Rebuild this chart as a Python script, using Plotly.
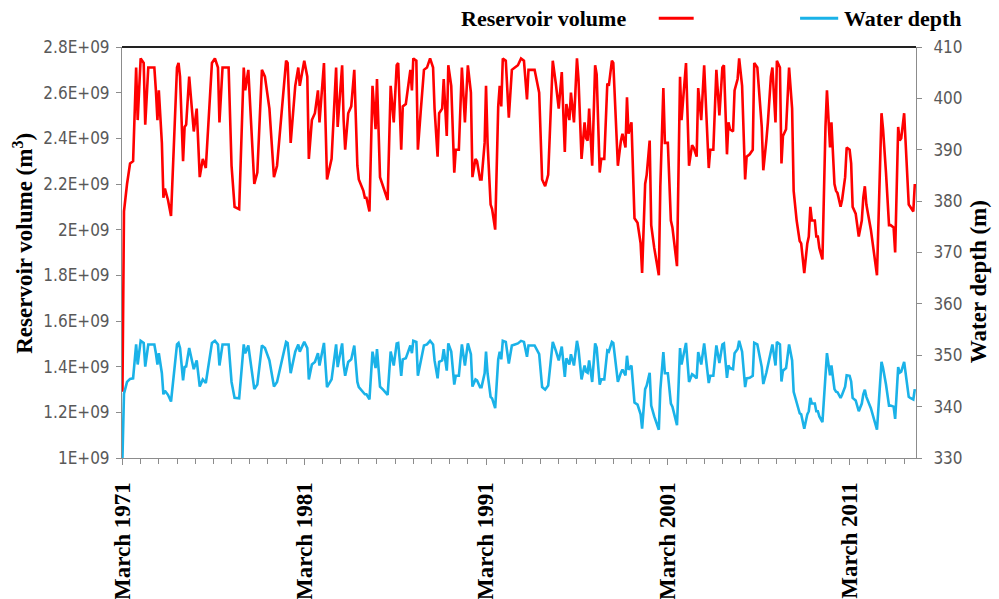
import plotly.graph_objects as go

# Monthly reservoir record (volume in m3, water depth in m)
dates = [
    "1971-03", "1971-04", "1971-06", "1971-08", "1971-10", "1971-12", "1972-01", "1972-03",
    "1972-05", "1972-06", "1972-08", "1972-12", "1973-01", "1973-02", "1973-03", "1973-05",
    "1973-06", "1973-07", "1973-09", "1973-11", "1974-03", "1974-04", "1974-05", "1974-07",
    "1974-08", "1974-09", "1974-11", "1975-02", "1975-04", "1975-06", "1975-08", "1975-10",
    "1976-02", "1976-04", "1976-06", "1976-07", "1976-09", "1977-01", "1977-03", "1977-05",
    "1977-08", "1977-11", "1977-12", "1978-02", "1978-06", "1978-08", "1978-11", "1979-01",
    "1979-04", "1979-07", "1979-09",
    "1980-03", "1980-04", "1980-06", "1980-09", "1980-11", "1980-12", "1981-03", "1981-05",
    "1981-06", "1981-08", "1981-10", "1981-12", "1982-01", "1982-04", "1982-05", "1982-06",
    "1982-09", "1982-12", "1983-01", "1983-04", "1983-05", "1983-06", "1983-08", "1983-10",
    "1983-12", "1984-01", "1984-02", "1984-03", "1984-06", "1984-07", "1984-08", "1984-10",
    "1984-12", "1985-02", "1985-03", "1985-05", "1985-07", "1985-10", "1985-12", "1986-02",
    "1986-04", "1986-05", "1986-07", "1986-08", "1986-10", "1987-01", "1987-02", "1987-03",
    "1987-05", "1987-06", "1987-08", "1987-10", "1987-12", "1988-02", "1988-04", "1988-05",
    "1988-07",
    "1988-08", "1988-10", "1988-11", "1989-01", "1989-02", "1989-04", "1989-06", "1989-07",
    "1989-09", "1989-11", "1990-01", "1990-03", "1990-05", "1990-06", "1990-08", "1990-09",
    "1990-11", "1990-12", "1991-02", "1991-03", "1991-04", "1991-06", "1991-07", "1991-09",
    "1991-11", "1991-12", "1992-01", "1992-02", "1992-04", "1992-06", "1992-08", "1992-10",
    "1992-12", "1993-02", "1993-04", "1993-06", "1993-07", "1993-11", "1994-01", "1994-02",
    "1994-04", "1994-06", "1994-08", "1994-11", "1995-01", "1995-03", "1995-05", "1995-07",
    "1995-08", "1995-10", "1995-11", "1996-01", "1996-03", "1996-04", "1996-06", "1996-08",
    "1996-09", "1996-10", "1996-11", "1997-01", "1997-03", "1997-04",
    "1997-06", "1997-07", "1997-09", "1997-11", "1997-12", "1998-02", "1998-03", "1998-06",
    "1998-08", "1998-09", "1998-11", "1998-12", "1999-01", "1999-03", "1999-05", "1999-07",
    "1999-09", "1999-10", "1999-12", "2000-01", "2000-03", "2000-04", "2000-06", "2000-09",
    "2000-10", "2000-12", "2001-01", "2001-03", "2001-05", "2001-06", "2001-09", "2001-11",
    "2001-12", "2002-02", "2002-03", "2002-05", "2002-07", "2002-08", "2002-10", "2002-11",
    "2003-01", "2003-03", "2003-06", "2003-07", "2003-09", "2003-11", "2004-01", "2004-03",
    "2004-04", "2004-06", "2004-07", "2004-08", "2004-10", "2004-11", "2005-01", "2005-02",
    "2005-04", "2005-06", "2005-07", "2005-09", "2005-11", "2005-12", "2006-02",
    "2006-05", "2006-06", "2006-08", "2006-09", "2006-11", "2006-12", "2007-02", "2007-03",
    "2007-05", "2007-06", "2007-07", "2007-09", "2007-11", "2008-01", "2008-02", "2008-04",
    "2008-06", "2008-07", "2008-09", "2008-11", "2008-12", "2009-01", "2009-02", "2009-04",
    "2009-05", "2009-06", "2009-07", "2009-09", "2009-11", "2009-12", "2010-02", "2010-03",
    "2010-05", "2010-06", "2010-07", "2010-09", "2010-10", "2010-12", "2011-01", "2011-03",
    "2011-04", "2011-05", "2011-07", "2011-09", "2011-11", "2011-12", "2012-01", "2012-02",
    "2012-05", "2012-06", "2012-09", "2012-12", "2013-01", "2013-03", "2013-05", "2013-06",
    "2013-08", "2013-09", "2013-11", "2013-12", "2014-01", "2014-03", "2014-04", "2014-06",
    "2014-07", "2014-09", "2014-10",
]

reservoir_volume = [
    1.29e9, 2.08e9, 2.20e9, 2.29e9, 2.30e9, 2.71e9, 2.48e9, 2.75e9,
    2.73e9, 2.46e9, 2.71e9, 2.71e9, 2.61e9, 2.48e9, 2.61e9, 2.38e9,
    2.14e9, 2.18e9, 2.13e9, 2.06e9, 2.71e9, 2.73e9, 2.67e9, 2.30e9,
    2.45e9, 2.46e9, 2.67e9, 2.43e9, 2.53e9, 2.23e9, 2.31e9, 2.27e9,
    2.73e9, 2.75e9, 2.71e9, 2.47e9, 2.71e9, 2.71e9, 2.28e9, 2.10e9,
    2.09e9, 2.71e9, 2.61e9, 2.70e9, 2.20e9, 2.25e9, 2.70e9, 2.67e9,
    2.53e9, 2.23e9, 2.28e9,
    2.74e9, 2.73e9, 2.38e9, 2.63e9, 2.71e9, 2.63e9, 2.74e9, 2.67e9,
    2.31e9, 2.48e9, 2.51e9, 2.61e9, 2.47e9, 2.73e9, 2.45e9, 2.22e9,
    2.31e9, 2.71e9, 2.45e9, 2.72e9, 2.48e9, 2.35e9, 2.51e9, 2.54e9,
    2.70e9, 2.45e9, 2.28e9, 2.22e9, 2.17e9, 2.14e9, 2.14e9, 2.08e9,
    2.63e9, 2.44e9, 2.66e9, 2.23e9, 2.19e9, 2.13e9, 2.63e9, 2.47e9,
    2.72e9, 2.73e9, 2.35e9, 2.54e9, 2.55e9, 2.70e9, 2.61e9, 2.75e9,
    2.74e9, 2.35e9, 2.53e9, 2.70e9, 2.71e9, 2.75e9, 2.71e9, 2.53e9,
    2.32e9,
    2.51e9, 2.53e9, 2.66e9, 2.41e9, 2.72e9, 2.63e9, 2.25e9, 2.35e9,
    2.35e9, 2.71e9, 2.47e9, 2.72e9, 2.60e9, 2.23e9, 2.31e9, 2.30e9,
    2.22e9, 2.22e9, 2.38e9, 2.63e9, 2.38e9, 2.11e9, 2.09e9, 2.00e9,
    2.54e9, 2.63e9, 2.54e9, 2.75e9, 2.74e9, 2.49e9, 2.70e9, 2.71e9,
    2.72e9, 2.75e9, 2.74e9, 2.57e9, 2.70e9, 2.70e9, 2.63e9, 2.60e9,
    2.22e9, 2.19e9, 2.24e9, 2.74e9, 2.64e9, 2.53e9, 2.69e9, 2.34e9,
    2.55e9, 2.48e9, 2.60e9, 2.47e9, 2.75e9, 2.66e9, 2.31e9, 2.47e9,
    2.40e9, 2.39e9, 2.53e9, 2.28e9, 2.72e9, 2.68e9,
    2.25e9, 2.31e9, 2.31e9, 2.64e9, 2.63e9, 2.74e9, 2.73e9, 2.28e9,
    2.39e9, 2.42e9, 2.36e9, 2.58e9, 2.42e9, 2.47e9, 2.05e9, 2.03e9,
    1.94e9, 1.81e9, 2.20e9, 2.24e9, 2.39e9, 2.02e9, 1.92e9, 1.80e9,
    2.19e9, 2.62e9, 2.38e9, 2.38e9, 2.04e9, 2.01e9, 1.84e9, 2.67e9,
    2.48e9, 2.67e9, 2.73e9, 2.28e9, 2.37e9, 2.36e9, 2.32e9, 2.62e9,
    2.48e9, 2.72e9, 2.27e9, 2.35e9, 2.35e9, 2.70e9, 2.50e9, 2.71e9,
    2.72e9, 2.33e9, 2.47e9, 2.44e9, 2.43e9, 2.61e9, 2.66e9, 2.75e9,
    2.63e9, 2.22e9, 2.32e9, 2.33e9, 2.35e9, 2.73e9, 2.71e9,
    2.45e9, 2.26e9, 2.39e9, 2.47e9, 2.67e9, 2.71e9, 2.47e9, 2.74e9,
    2.71e9, 2.29e9, 2.41e9, 2.44e9, 2.71e9, 2.53e9, 2.17e9, 2.04e9,
    1.95e9, 1.94e9, 1.81e9, 1.94e9, 1.97e9, 2.10e9, 2.04e9, 2.04e9,
    1.97e9, 1.97e9, 1.92e9, 1.87e9, 2.45e9, 2.61e9, 2.36e9, 2.47e9,
    2.20e9, 2.17e9, 2.16e9, 2.10e9, 2.13e9, 2.23e9, 2.36e9, 2.35e9,
    2.29e9, 2.10e9, 2.07e9, 1.97e9, 2.04e9, 2.14e9, 2.19e9, 2.11e9,
    2.00e9, 1.95e9, 1.80e9, 2.51e9, 2.44e9, 2.25e9, 2.02e9, 2.02e9,
    2.01e9, 1.90e9, 2.45e9, 2.39e9, 2.40e9, 2.51e9, 2.38e9, 2.11e9,
    2.10e9, 2.08e9, 2.20e9,
]

water_depth = [
    330.0, 342.5, 344.8, 345.4, 345.5, 352.1, 348.2, 352.8,
    352.4, 347.8, 352.1, 352.1, 350.4, 348.2, 350.4, 346.5,
    342.4, 343.1, 342.3, 341.0, 352.1, 352.4, 351.4, 345.1,
    347.7, 347.8, 351.4, 347.3, 349.0, 343.9, 345.3, 344.6,
    352.4, 352.8, 352.1, 348.0, 352.1, 352.1, 344.8, 341.7,
    341.6, 352.1, 350.4, 351.9, 343.4, 344.3, 351.9, 351.4,
    349.0, 343.9, 344.8,
    352.6, 352.4, 346.5, 350.7, 352.1, 350.7, 352.6, 351.4,
    345.3, 348.2, 348.7, 350.4, 348.0, 352.4, 347.7, 343.8,
    345.3, 352.1, 347.7, 352.3, 348.2, 346.0, 348.7, 349.2,
    351.9, 347.7, 344.8, 343.8, 342.9, 342.4, 342.4, 341.4,
    350.7, 347.5, 351.2, 343.9, 343.3, 342.3, 350.7, 348.0,
    352.3, 352.4, 346.0, 349.2, 349.4, 351.9, 350.4, 352.8,
    352.6, 346.0, 349.0, 351.9, 352.1, 352.8, 352.1, 349.0,
    345.5,
    348.7, 349.0, 351.2, 347.0, 352.3, 350.7, 344.3, 346.0,
    346.0, 352.1, 348.0, 352.3, 350.2, 343.9, 345.3, 345.1,
    343.8, 343.8, 346.5, 350.7, 346.5, 341.9, 341.6, 339.7,
    349.2, 350.7, 349.2, 352.8, 352.6, 348.4, 351.9, 352.1,
    352.3, 352.8, 352.6, 349.7, 351.9, 351.9, 350.7, 350.2,
    343.8, 343.3, 344.1, 352.6, 350.9, 349.0, 351.7, 345.8,
    349.4, 348.2, 350.2, 348.0, 352.8, 351.2, 345.3, 348.0,
    346.8, 346.6, 349.0, 344.8, 352.3, 351.5,
    344.3, 345.3, 345.3, 350.9, 350.7, 352.6, 352.4, 344.8,
    346.6, 347.2, 346.1, 349.9, 347.2, 348.0, 340.8, 340.4,
    338.5, 335.7, 343.4, 344.1, 346.6, 340.2, 338.1, 335.5,
    343.3, 350.6, 346.5, 346.5, 340.6, 340.0, 336.4, 351.4,
    348.2, 351.4, 352.4, 344.8, 346.3, 346.1, 345.5, 350.6,
    348.2, 352.3, 344.6, 346.0, 346.0, 351.9, 348.5, 352.1,
    352.3, 345.6, 348.0, 347.5, 347.3, 350.4, 351.2, 352.8,
    350.7, 343.8, 345.5, 345.6, 346.0, 352.4, 352.1,
    347.7, 344.4, 346.6, 348.0, 351.4, 352.1, 348.0, 352.6,
    352.1, 344.9, 347.0, 347.5, 352.1, 349.0, 342.9, 340.6,
    338.7, 338.5, 335.7, 338.5, 339.1, 341.7, 340.6, 340.6,
    339.1, 339.1, 338.1, 337.0, 347.7, 350.4, 346.1, 348.0,
    343.4, 342.9, 342.8, 341.7, 342.3, 343.9, 346.1, 346.0,
    344.9, 341.7, 341.2, 339.1, 340.6, 342.4, 343.3, 341.9,
    339.7, 338.7, 335.5, 348.7, 347.5, 344.3, 340.2, 340.2,
    340.0, 337.6, 347.7, 346.6, 346.8, 348.7, 346.5, 341.9,
    341.7, 341.4, 343.4,
]

# Axis ticks and labels
date_ticks = ["1971-03-01", "1981-03-01", "1991-03-01", "2001-03-01", "2011-03-01"]
date_tick_labels = ["March 1971", "March 1981", "March 1991", "March 2001", "March 2011"]
volume_ticks = [1.0e9, 1.2e9, 1.4e9, 1.6e9, 1.8e9, 2.0e9, 2.2e9, 2.4e9, 2.6e9, 2.8e9]
volume_tick_labels = ["1E+09", "1.2E+09", "1.4E+09", "1.6E+09", "1.8E+09",
                      "2E+09", "2.2E+09", "2.4E+09", "2.6E+09", "2.8E+09"]
depth_ticks = [330, 340, 350, 360, 370, 380, 390, 400, 410]

RED = "#FF0000"
BLUE = "#1AB2E8"
AXIS_GREY = "#8C8C8C"
LABEL_GREY = "#595959"
SERIF = "Liberation Serif, Times New Roman, serif"
NARROW = "Liberation Sans Narrow, Arial Narrow, DejaVu Sans Condensed, Liberation Sans, sans-serif"

fig = go.Figure()
fig.add_trace(go.Scatter(
    x=dates, y=reservoir_volume, mode="lines", name="Reservoir volume",
    line=dict(color=RED, width=2.6), yaxis="y",
))
fig.add_trace(go.Scatter(
    x=dates, y=water_depth, mode="lines", name="Water depth",
    line=dict(color=BLUE, width=2.6), yaxis="y2",
))

fig.update_layout(
    width=999, height=599,
    margin=dict(l=122, r=83, t=47, b=141),
    paper_bgcolor="white", plot_bgcolor="white",
    showlegend=False,
    xaxis=dict(
        type="date", range=["1971-02-20", "2014-10-25"],
        automargin=False,
        tickmode="array", tickvals=date_ticks, ticktext=date_tick_labels,
        tickangle=-90,
        tickfont=dict(family=SERIF, size=23, color="black", weight="bold"),
        ticklabelstandoff=8,
        showline=True, linecolor=AXIS_GREY, linewidth=1,
        ticks="outside", ticklen=6, tickcolor=AXIS_GREY,
        minor=dict(ticks="outside", dtick="M12", tick0="1971-03-01",
                   ticklen=5, tickcolor=AXIS_GREY, showgrid=False),
        showgrid=False, zeroline=False,
    ),
    yaxis=dict(
        range=[1.0e9, 2.8e9], automargin=False,
        tickmode="array", tickvals=volume_ticks, ticktext=volume_tick_labels,
        tickfont=dict(family=NARROW, size=17, color=LABEL_GREY),
        showline=True, linecolor=AXIS_GREY, linewidth=1,
        ticks="outside", ticklen=5, tickcolor=AXIS_GREY,
        ticklabelstandoff=3,
        showgrid=False, zeroline=False,
    ),
    yaxis2=dict(
        overlaying="y", side="right", range=[330, 410], automargin=False,
        tickmode="array", tickvals=depth_ticks,
        tickfont=dict(family=NARROW, size=17, color=LABEL_GREY),
        showline=True, linecolor=AXIS_GREY, linewidth=1,
        ticks="outside", ticklen=5, tickcolor=AXIS_GREY,
        ticklabelstandoff=8,
        showgrid=False, zeroline=False,
    ),
)

# Dark top border of the plot area
fig.add_shape(type="line", xref="paper", yref="paper", x0=0, x1=1, y0=1, y1=1,
              line=dict(color="#222222", width=2))

title_font = dict(family=SERIF, size=23, color="black", weight="bold")

# Axis titles
fig.add_annotation(text="Reservoir volume (m<sup>3</sup>)", xref="paper", yref="paper",
                   x=-0.125, y=0.523, textangle=-90, showarrow=False,
                   xanchor="center", yanchor="middle", font=title_font)
fig.add_annotation(text="Water depth (m)", xref="paper", yref="paper",
                   x=1.078, y=0.43, textangle=-90, showarrow=False,
                   xanchor="center", yanchor="middle", font=title_font)

# Legend drawn above the plot: label then red key, blue key then label
legend_font = dict(family=SERIF, size=22, color="black", weight="bold")
fig.add_annotation(text="Reservoir volume", xref="paper", yref="paper",
                   x=0.531, y=1.07, showarrow=False, xanchor="center", yanchor="middle",
                   font=legend_font)
fig.add_shape(type="line", xref="paper", yref="paper", x0=0.676, x1=0.720, y0=1.07, y1=1.07,
              line=dict(color=RED, width=3))
fig.add_shape(type="line", xref="paper", yref="paper", x0=0.854, x1=0.902, y0=1.07, y1=1.07,
              line=dict(color=BLUE, width=3))
fig.add_annotation(text="Water depth", xref="paper", yref="paper",
                   x=0.907, y=1.07, showarrow=False, xanchor="left", yanchor="middle",
                   font=legend_font)

fig.write_html("out.html")
